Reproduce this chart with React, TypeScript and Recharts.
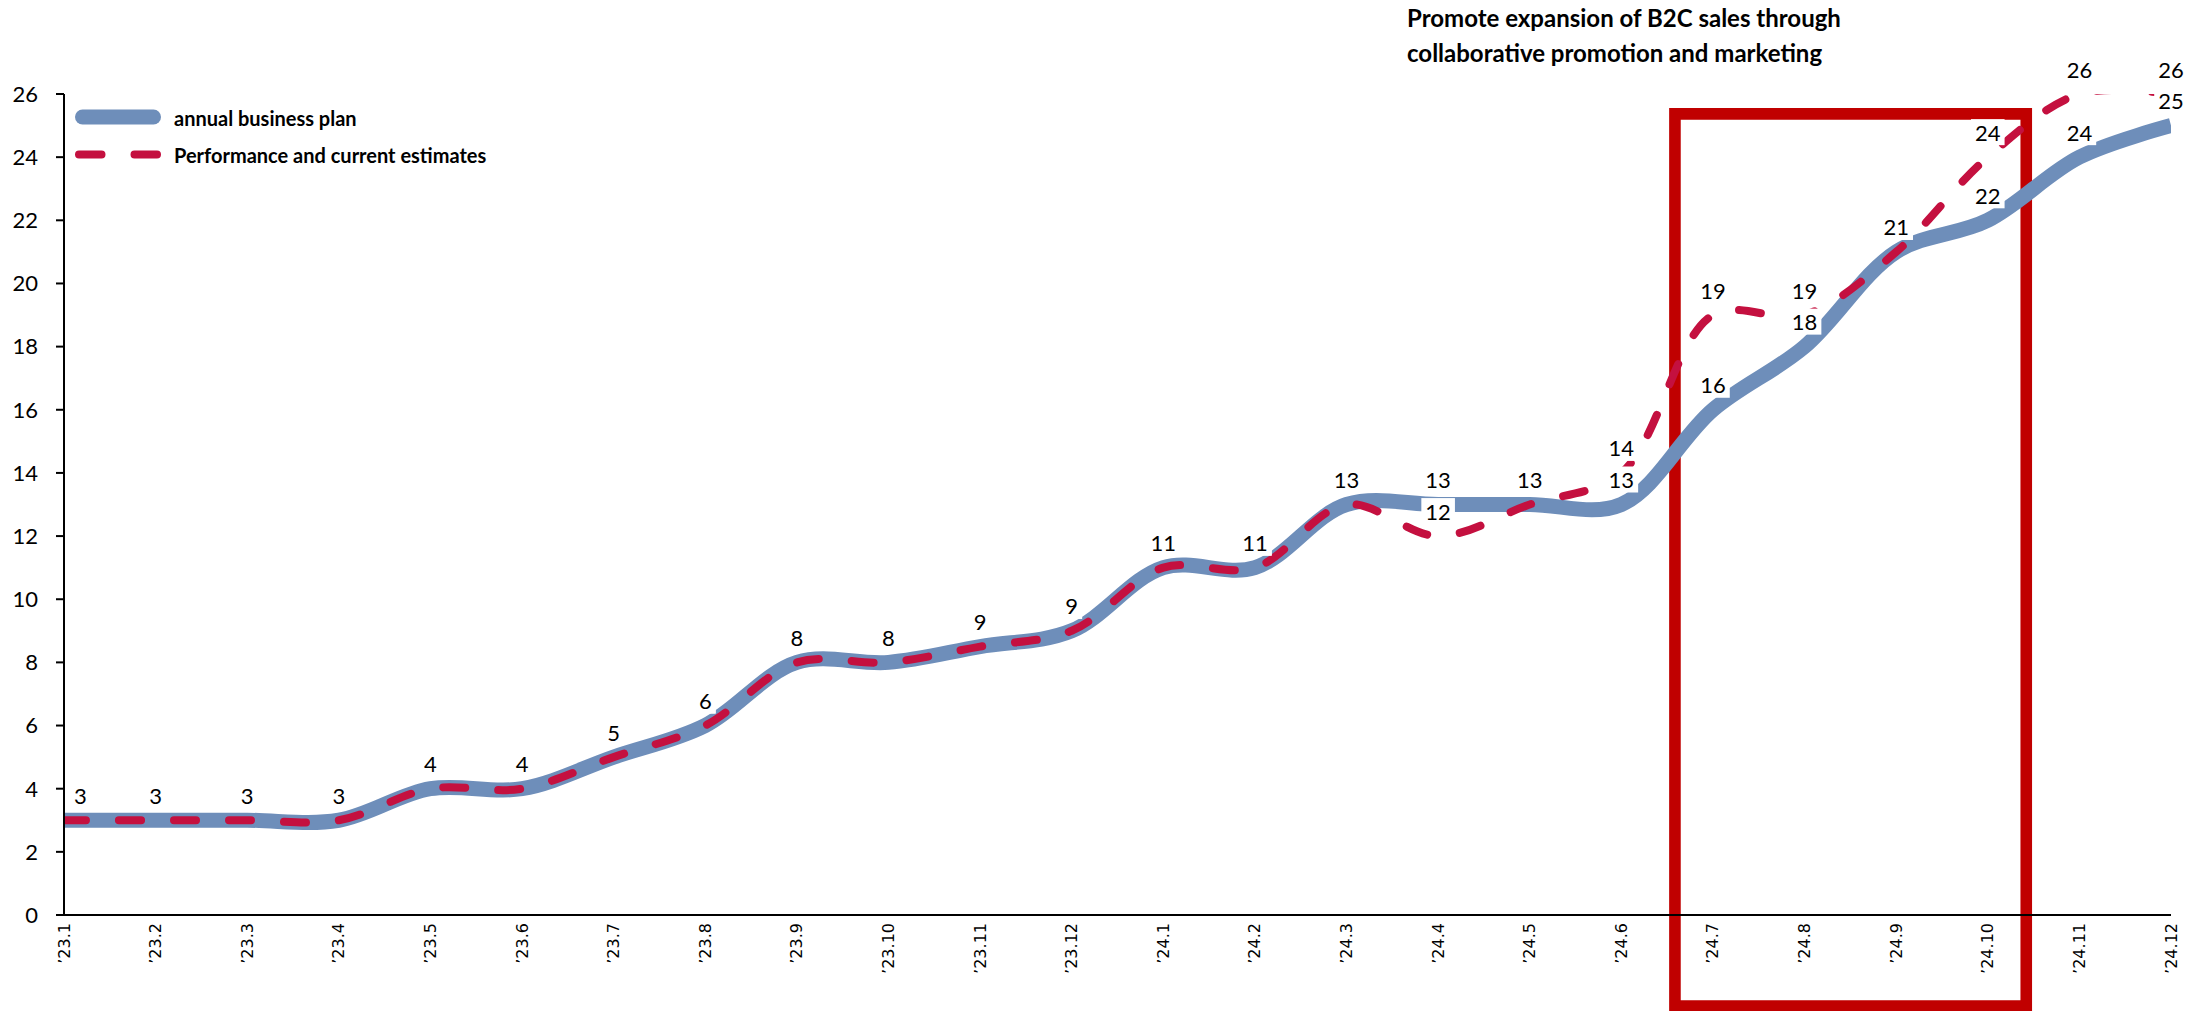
import React from 'react';
import { LineChart, Line, XAxis, YAxis, LabelList, ReferenceArea } from 'recharts';

// Monthly figures, Jan 2023 – Dec 2024
const months = [
  '’23.1', '’23.2', '’23.3', '’23.4', '’23.5', '’23.6', '’23.7', '’23.8', '’23.9', '’23.10', '’23.11', '’23.12',
  '’24.1', '’24.2', '’24.3', '’24.4', '’24.5', '’24.6', '’24.7', '’24.8', '’24.9', '’24.10', '’24.11', '’24.12',
];
const planValues = [3, 3, 3, 3, 4, 4, 5, 6, 8, 8, 8.5, 9, 11, 11, 13, 13, 13, 13, 16, 18, 21, 22, 24, 25];
const actualValues = [3, 3, 3, 3, 4, 4, 5, 6, 8, 8, 8.5, 9, 11, 11, 13, 12, 13, 14, 19, 19, 21, 24, 26, 26];
const yTicks = [0, 2, 4, 6, 8, 10, 12, 14, 16, 18, 20, 22, 24, 26];

const planName = 'annual business plan';
const actualName = 'Performance and current estimates';
const titleLines = ['Promote expansion of B2C sales through', 'collaborative promotion and marketing'];

// Highlighted period (month index units, value units)
const highlightX = [17.585, 21.42];
const highlightY = [-2.88, 25.37];

const rows = months.map((m, i) => ({ idx: i, month: m, plan: planValues[i], actual: actualValues[i] }));

const W = 2203;
const H = 1011;
const M = { top: 94, right: 32, bottom: 0, left: 0 };
const Y_AXIS_W = 64;
const X_AXIS_H = 96;
const PLOT_LEFT = M.left + Y_AXIS_W;

const BLUE = '#6E8EBA';
const RED = '#C4103F';
const BOX = '#C00000';
const LABEL_FONT = 'Lato, "Open Sans", sans-serif';

// Smoothed line: centripetal Catmull-Rom spline written as cubic Bézier segments
const smoothCurve = (context: any) => {
  let pts: number[][] = [];
  const dist = (a: number[], b: number[]) => Math.hypot(b[0] - a[0], b[1] - a[1]);
  return {
    areaStart() {},
    areaEnd() {},
    lineStart() {
      pts = [];
    },
    point(x: number, y: number) {
      pts.push([+x, +y]);
    },
    lineEnd() {
      const n = pts.length;
      if (!n) return;
      context.moveTo(pts[0][0], pts[0][1]);
      for (let i = 0; i < n - 1; i++) {
        const p0 = pts[i - 1];
        const p1 = pts[i];
        const p2 = pts[i + 1];
        const p3 = pts[i + 2];
        const l12 = dist(p1, p2);
        const l12a = Math.sqrt(l12);
        let c1 = p1;
        let c2 = p2;
        if (p0) {
          const l01 = dist(p0, p1);
          const l01a = Math.sqrt(l01);
          if (l01a > 1e-9) {
            const a = 2 * l01 + 3 * l01a * l12a + l12;
            const k = 3 * l01a * (l01a + l12a);
            c1 = [(p1[0] * a - p0[0] * l12 + p2[0] * l01) / k, (p1[1] * a - p0[1] * l12 + p2[1] * l01) / k];
          }
        }
        if (p3) {
          const l23 = dist(p2, p3);
          const l23a = Math.sqrt(l23);
          if (l23a > 1e-9) {
            const b = 2 * l23 + 3 * l23a * l12a + l12;
            const m = 3 * l23a * (l23a + l12a);
            c2 = [(p2[0] * b + p1[0] * l23 - p3[0] * l12) / m, (p2[1] * b + p1[1] * l23 - p3[1] * l12) / m];
          }
        }
        context.bezierCurveTo(c1[0], c1[1], c2[0], c2[1], p2[0], p2[1]);
      }
    },
  };
};

const ValueLabel = (props: any) => {
  const vb = props.viewBox || {};
  const x = props.x ?? vb.x;
  const y = props.y ?? vb.y;
  if (x == null || y == null || props.value == null) return null;
  const text = String(Math.round(Number(props.value)));
  const w = text.length * 12.8 + 8;
  const cx = Math.max(x, PLOT_LEFT + w / 2 + 6);
  const cy = y - 25;
  return (
    <g>
      <rect x={cx - w / 2} y={cy - 13} width={w} height={26} fill="#ffffff" />
      <text
        x={cx}
        y={cy}
        textAnchor="middle"
        dominantBaseline="central"
        fontFamily={LABEL_FONT}
        fontSize={22}
        fill="#000"
      >
        {text}
      </text>
    </g>
  );
};

const MonthTick = (props: any) => {
  const { x, y, payload } = props;
  return (
    <text
      x={x}
      y={y}
      transform={`rotate(-90 ${x} ${y})`}
      textAnchor="end"
      dominantBaseline="central"
      fontFamily='"DejaVu Sans", sans-serif'
      fontSize={16}
      fill="#000"
    >
      {months[payload.value]}
    </text>
  );
};

const LegendBox = () => (
  <svg width={560} height={180} style={{ position: 'absolute', left: 0, top: 0 }}>
    <line x1={82.5} y1={117} x2={153.5} y2={117} stroke={BLUE} strokeWidth={15} strokeLinecap="round" />
    <text x={174} y={118} dominantBaseline="central" fontFamily={LABEL_FONT} fontWeight={700} fontSize={20} fill="#000">
      {planName}
    </text>
    <line
      x1={79}
      y1={154.5}
      x2={157}
      y2={154.5}
      stroke={RED}
      strokeWidth={8}
      strokeLinecap="round"
      strokeDasharray="22.5 33"
    />
    <text x={174} y={155} dominantBaseline="central" fontFamily={LABEL_FONT} fontWeight={700} fontSize={20} fill="#000">
      {actualName}
    </text>
  </svg>
);

export default function App() {
  return (
    <div style={{ position: 'relative', width: W, height: H, background: '#fff', overflow: 'hidden' }}>
      <style>{'html,body{margin:0;padding:0;overflow:hidden;background:#fff}'}</style>
      <LineChart width={W} height={H} data={rows} margin={M}>
        <XAxis
          dataKey="idx"
          type="number"
          domain={[0, months.length - 1]}
          ticks={months.map((_, i) => i)}
          interval={0}
          allowDataOverflow
          height={X_AXIS_H}
          tickLine={false}
          tickSize={6}
          tickMargin={2}
          axisLine={{ stroke: '#000', strokeWidth: 2 }}
          tick={<MonthTick />}
        />
        <YAxis
          type="number"
          domain={[0, 26]}
          ticks={yTicks}
          interval={0}
          allowDataOverflow
          width={Y_AXIS_W}
          tickSize={8}
          tickMargin={18}
          axisLine={{ stroke: '#000', strokeWidth: 2 }}
          tickLine={{ stroke: '#000', strokeWidth: 2 }}
          tick={{ fontFamily: LABEL_FONT, fontSize: 22, fill: '#000' }}
        />
        <Line
          dataKey="plan"
          name={planName}
          type={smoothCurve as any}
          stroke={BLUE}
          strokeWidth={15}
          strokeLinejoin="round"
          dot={false}
          activeDot={false}
          isAnimationActive={false}
        />
        <Line
          dataKey="actual"
          name={actualName}
          type={smoothCurve as any}
          stroke={RED}
          strokeWidth={8}
          strokeLinecap="round"
          strokeLinejoin="round"
          strokeDasharray="22 33"
          dot={false}
          activeDot={false}
          isAnimationActive={false}
        />
        <ReferenceArea
          x1={highlightX[0]}
          x2={highlightX[1]}
          y1={highlightY[0]}
          y2={highlightY[1]}
          ifOverflow="visible"
          fill="none"
          fillOpacity={0}
          stroke={BOX}
          strokeWidth={11.6}
        />
        <Line
          dataKey="plan"
          legendType="none"
          stroke="none"
          dot={false}
          activeDot={false}
          isAnimationActive={false}
        >
          <LabelList dataKey="plan" content={<ValueLabel />} />
        </Line>
        <Line
          dataKey="actual"
          legendType="none"
          stroke="none"
          dot={false}
          activeDot={false}
          isAnimationActive={false}
        >
          <LabelList dataKey="actual" content={<ValueLabel />} />
        </Line>
      </LineChart>
      <LegendBox />
      <div
        style={{
          position: 'absolute',
          left: 1407,
          top: 0,
          fontFamily: LABEL_FONT,
          fontWeight: 700,
          fontSize: 24,
          lineHeight: '35px',
          color: '#000',
          whiteSpace: 'nowrap',
        }}
      >
        {titleLines.map((t) => (
          <div key={t}>{t}</div>
        ))}
      </div>
    </div>
  );
}
